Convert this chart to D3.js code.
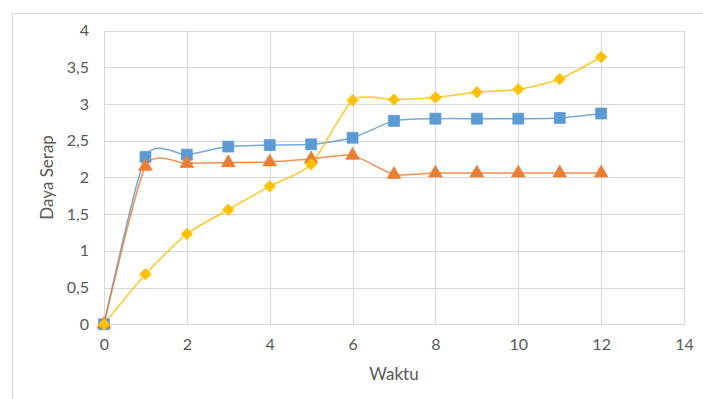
<!DOCTYPE html>
<html>
<head>
<meta charset="utf-8">
<script src="https://cdn.jsdelivr.net/npm/d3@7"></script>
<style>
  html, body { margin: 0; padding: 0; background: #fff; }
  svg { display: block; }
  text { font-family: Lato, "Liberation Sans", sans-serif; fill: #595959; }
</style>
</head>
<body>
<svg id="chart" width="703" height="399"></svg>
<script>
// Measurement times and absorbance readings for three samples
const waktu = [0, 1, 2, 3, 4, 5, 6, 7, 8, 9, 10, 11, 12];
const seriesBlue   = [0, 2.28, 2.31, 2.42, 2.44, 2.45, 2.54, 2.77, 2.80, 2.80, 2.80, 2.81, 2.87];
const seriesOrange = [0, 2.15, 2.19, 2.20, 2.21, 2.25, 2.30, 2.04, 2.06, 2.06, 2.06, 2.06, 2.06];
const seriesYellow = [0, 0.68, 1.23, 1.56, 1.88, 2.18, 3.05, 3.06, 3.09, 3.16, 3.20, 3.34, 3.64];
const xTicks = [0, 2, 4, 6, 8, 10, 12, 14];
const yTicks = [0, 0.5, 1, 1.5, 2, 2.5, 3, 3.5, 4];
const xTitle = "Waktu";
const yTitle = "Daya Serap";

const svg = d3.select("#chart");

// outer chart frame
svg.append("rect")
  .attr("x", 12.5).attr("y", 13.5)
  .attr("width", 800).attr("height", 500)
  .attr("fill", "none").attr("stroke", "#d9d9d9");

const x = d3.scaleLinear().domain([0, 14]).range([104, 684]);
const y = d3.scaleLinear().domain([0, 4]).range([324.2, 30.6]);

const fmt = v => String(v).replace(".", ",");

// gridlines
const grid = svg.append("g");
grid.selectAll(".hg").data(yTicks).join("line")
  .attr("x1", x(0)).attr("x2", x(14))
  .attr("y1", d => Math.round(y(d)) + 0.5).attr("y2", d => Math.round(y(d)) + 0.5)
  .attr("stroke", "#d9d9d9").attr("stroke-width", 1);
grid.selectAll(".vg").data(xTicks).join("line")
  .attr("x1", d => Math.round(x(d)) + 0.5).attr("x2", d => Math.round(x(d)) + 0.5)
  .attr("y1", y(0)).attr("y2", y(4))
  .attr("stroke", "#d9d9d9").attr("stroke-width", 1);

// axes (labels only, no tick marks)
const xAxis = d3.axisBottom(x).tickValues(xTicks).tickSize(0).tickPadding(14).tickFormat(fmt);
const gx = svg.append("g").attr("transform", `translate(0,${y(0)})`).call(xAxis);
gx.select(".domain").remove();
gx.selectAll("text").style("font-size", "16px").attr("fill", "#595959");

const yAxis = d3.axisLeft(y).tickValues(yTicks).tickSize(0).tickPadding(15).tickFormat(fmt);
const gy = svg.append("g").attr("transform", `translate(${x(0)},0)`).call(yAxis);
gy.select(".domain").remove();
gy.selectAll("text").style("font-size", "16px").attr("fill", "#595959");

// axis titles
svg.append("text")
  .attr("x", (x(0) + x(14)) / 2).attr("y", 380)
  .attr("text-anchor", "middle").style("font-size", "17px")
  .text(xTitle);
svg.append("text")
  .attr("transform", `translate(53,${(y(0) + y(4)) / 2}) rotate(-90)`)
  .attr("text-anchor", "middle").style("font-size", "17px")
  .text(yTitle);

const line = d3.line()
  .x((d, i) => x(waktu[i]))
  .y(d => y(d))
  .curve(d3.curveCardinal.tension(0.35));

// square-proportioned diamond marker
const diamond = {
  draw(ctx, size) {
    const r = Math.sqrt(size / 2);
    ctx.moveTo(0, -r); ctx.lineTo(r, 0); ctx.lineTo(0, r); ctx.lineTo(-r, 0); ctx.closePath();
  }
};

const series = [
  { values: seriesBlue,   color: "#5B9BD5", marker: d3.symbolSquare,   size: 120 },
  { values: seriesOrange, color: "#ED7D31", marker: d3.symbolTriangle, size: 80 },
  { values: seriesYellow, color: "#FFC000", marker: diamond,           size: 66 }
];

series.forEach(s => {
  svg.append("path")
    .datum(s.values)
    .attr("d", line)
    .attr("fill", "none")
    .attr("stroke", s.color)
    .attr("stroke-width", 1.5)
    .attr("stroke-opacity", 0.85);
});

series.forEach(s => {
  svg.append("g").selectAll("path")
    .data(s.values)
    .join("path")
    .attr("transform", (d, i) => `translate(${x(waktu[i])},${y(d)})`)
    .attr("d", d3.symbol().type(s.marker).size(s.size))
    .attr("fill", s.color)
    .attr("stroke", s.color)
    .attr("stroke-width", 0.75);
});
</script>
</body>
</html>
